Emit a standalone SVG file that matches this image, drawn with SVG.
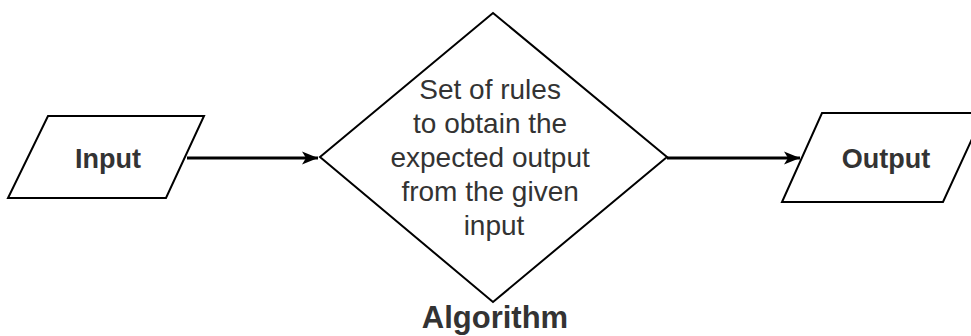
<svg xmlns="http://www.w3.org/2000/svg" width="971" height="336" viewBox="0 0 971 336">
  <defs>
    <marker id="arr" markerUnits="userSpaceOnUse" markerWidth="18" markerHeight="14" refX="16" refY="7" orient="auto">
      <path d="M0,0.5 L16,7 L0,13.5 L4,7 Z" fill="#000"/>
    </marker>
    <style>
      .shape { fill: #fff; stroke: #000; stroke-width: 2; }
      .lbl { font-family: "Liberation Sans", Arial, sans-serif; fill: #333; text-anchor: middle; }
      .b { font-weight: bold; }
      .edge { stroke: #000; stroke-width: 3; fill: none; }
    </style>
  </defs>
  <rect width="971" height="336" fill="#fff"/>
  <g id="connectors">
    <line class="edge" x1="187" y1="158" x2="318" y2="158" marker-end="url(#arr)"/>
    <line class="edge" x1="667" y1="158" x2="800" y2="158" marker-end="url(#arr)"/>
  </g>
  <g id="input">
    <polygon class="shape" points="48,116 204,116 166,198 8,198"/>
    <text class="lbl b" x="108" y="168" font-size="27">Input</text>
  </g>
  <g id="algorithm">
    <polygon class="shape" points="493,13 667,157 493,302 320,157"/>
    <text class="lbl" font-size="28">
      <tspan x="494" y="99">Set of rules</tspan>
      <tspan x="494" y="133">to obtain the</tspan>
      <tspan x="494" y="167">expected output</tspan>
      <tspan x="494" y="201">from the given</tspan>
      <tspan x="494" y="235">input</tspan>
    </text>
    <text class="lbl b" x="495" y="328" font-size="31">Algorithm</text>
  </g>
  <g id="output">
    <polygon class="shape" points="822,113 984,113 943,202 782,202"/>
    <text class="lbl b" x="886" y="168" font-size="27">Output</text>
  </g>
</svg>
